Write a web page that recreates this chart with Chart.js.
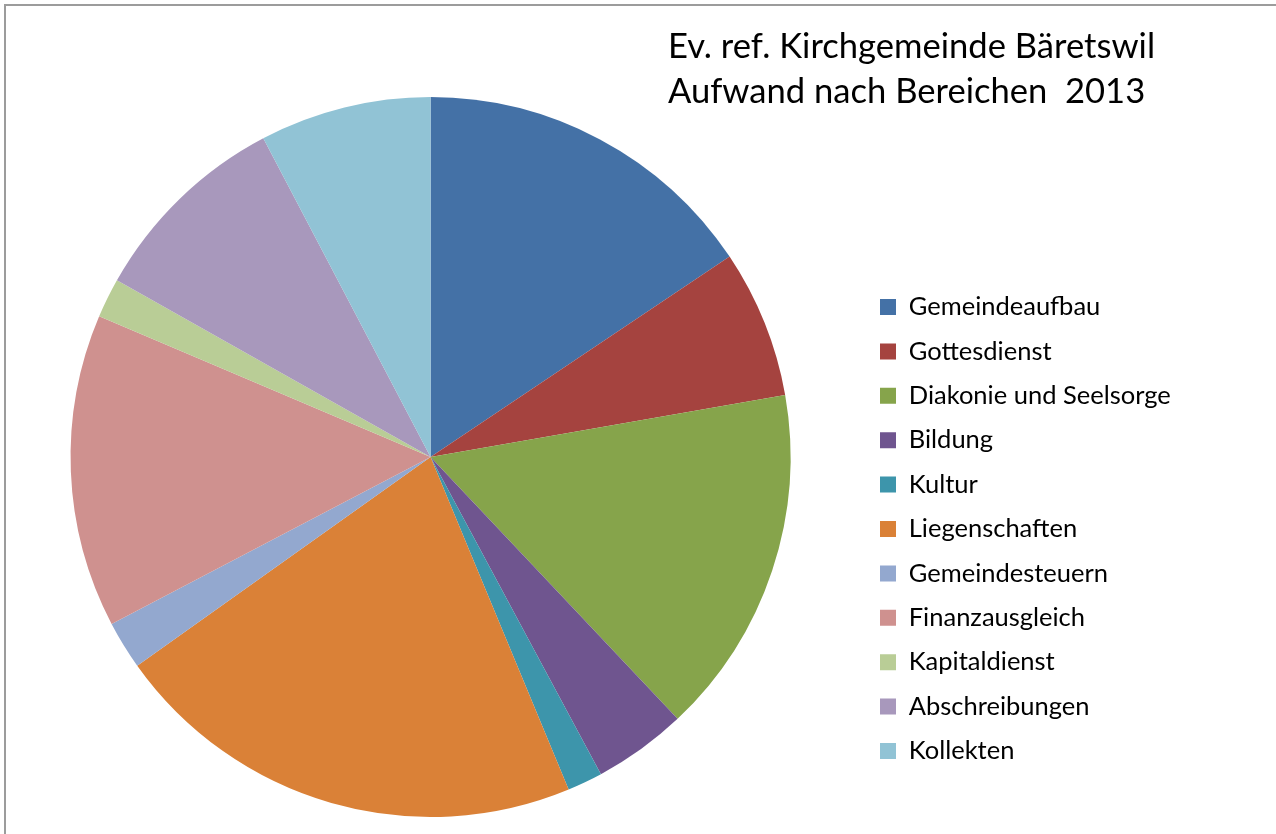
<!DOCTYPE html>
<html>
<head>
<meta charset="utf-8">
<script src="https://cdn.jsdelivr.net/npm/chart.js@4.4.1/dist/chart.umd.min.js"></script>
<style>
  html, body { margin: 0; padding: 0; background: #ffffff; }
  #wrap { position: relative; width: 1276px; height: 834px; overflow: hidden; }
  #frame { position: absolute; left: 4px; top: 4px; right: -10px; bottom: -10px;
           border-top: 2px solid #9c9c9c; border-left: 2px solid #9c9c9c; }
  #c { position: absolute; left: 0; top: 0; }
</style>
</head>
<body>
<div id="wrap">
  <div id="frame"></div>
  <canvas id="c" width="1276" height="834"></canvas>
</div>
<script>
// ---- data ----
const categories = [
  'Gemeindeaufbau', 'Gottesdienst', 'Diakonie und Seelsorge', 'Bildung', 'Kultur',
  'Liegenschaften', 'Gemeindesteuern', 'Finanzausgleich', 'Kapitaldienst',
  'Abschreibungen', 'Kollekten'
];
const values = [15.6, 6.64, 15.72, 4.19, 1.58, 21.42, 2.17, 14.06, 1.78, 9.14, 7.69];
const colors = [
  '#4471A6', '#A5433F', '#86A44B', '#6F558F', '#3D95AB',
  '#DA8137', '#93A8CF', '#CF918F', '#B9CD96', '#A898BC', '#91C3D5'
];
const titleLines = ['Ev. ref. Kirchgemeinde Bäretswil', 'Aufwand nach Bereichen  2013'];

// ---- layout helpers ----
const FONT = 'Lato, "Open Sans", "DejaVu Sans", sans-serif';
const legendFontSize = 25.5;
const legendPad = 18.9;
const boxW = 16;
const leftPad = 0;
const legendLeft = 880 - legendPad;

const mctx = document.createElement('canvas').getContext('2d');
mctx.font = legendFontSize + 'px ' + FONT;
let maxText = 0;
categories.forEach(t => { maxText = Math.max(maxText, mctx.measureText(t).width); });
const colW = boxW + legendFontSize / 2 + maxText;
const legendWidth = colW + 2 * legendPad;
const rightPad = Math.max(0, 1276 - legendLeft - legendWidth);

const titlePlugin = {
  id: 'bigTitle',
  afterDraw(chart) {
    const ctx = chart.ctx;
    ctx.save();
    ctx.font = '34.6px ' + FONT;
    ctx.fillStyle = '#000000';
    ctx.textAlign = 'left';
    ctx.textBaseline = 'alphabetic';
    titleLines.forEach((line, i) => ctx.fillText(line, 668, 58 + i * 45));
    ctx.restore();
  }
};

const chart = new Chart(document.getElementById('c'), {
  type: 'pie',
  data: {
    labels: categories,
    datasets: [{
      data: values,
      backgroundColor: colors,
      borderWidth: 0,
      hoverOffset: 0
    }]
  },
  options: {
    responsive: false,
    animation: false,
    layout: { padding: { top: 97, bottom: 17, left: leftPad, right: rightPad } },
    plugins: {
      tooltip: { enabled: false },
      legend: {
        position: 'right',
        align: 'center',
        fullSize: false,
        title: { display: true, text: ' ', font: { size: 12 }, padding: { top: 0, bottom: 129.6 } },
        labels: {
          boxWidth: boxW,
          boxHeight: 16,
          padding: legendPad,
          color: '#000000',
          font: { family: FONT, size: legendFontSize }
        }
      }
    }
  },
  plugins: [titlePlugin]
});

// correct the right padding so that the legend starts where intended
const diff = chart.legend.left - legendLeft;
if (Math.abs(diff) > 0.5) {
  chart.options.layout.padding.right = Math.max(0, rightPad + diff);
  chart.update();
}
</script>
</body>
</html>
